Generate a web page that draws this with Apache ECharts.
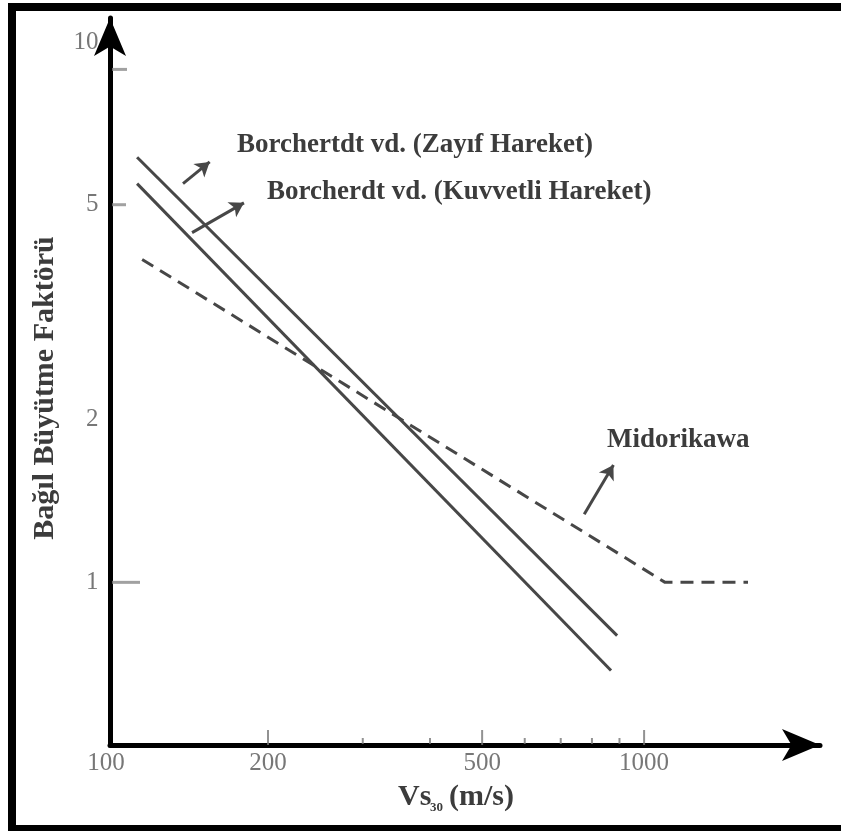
<!DOCTYPE html>
<html>
<head>
<meta charset="utf-8">
<script src="https://cdn.jsdelivr.net/npm/echarts@6/dist/echarts.min.js"></script>
<style>
html,body{margin:0;padding:0;background:#fff;}
#chart{width:841px;height:831px;}
</style>
</head>
<body>
<div id="chart"></div>
<script>
// ---- data ----
var xMin = 101.7, xMax = 2123;
var yMin = 0.5, yMax = 11.08;
var xTickLabels = [100, 200, 500, 1000];
var xMajorTicks = [200, 500, 1000];
var xMinorTicks = [300, 400, 600, 700, 800, 900];
var yTickLabels = [1, 2, 5, 10];
var yTickMarks = [1, 5, 8.9];
var zayifVs = [114.2, 891];
var zayifAmp = [6.12, 0.797];
var kuvvetliVs = [114.2, 868];
var kuvvetliAmp = [5.47, 0.687];
var midorikawaVs = [116.7, 1094, 1560];
var midorikawaAmp = [3.96, 1.0, 1.0];
// annotation arrows: [x1, y1, x2, y2]
var arrowZayif = [139, 5.47, 155.8, 6.00];
var arrowKuvvetli = [144.5, 4.44, 180.4, 5.04];
var arrowMidorikawa = [774, 1.337, 877, 1.649];

function pairs(xs, ys){ return xs.map(function(x,i){ return [x, ys[i]]; }); }

var font = '"Liberation Serif","DejaVu Serif",serif';
var lineColor = '#474747';
var textColor = '#3c3c3c';

var chart = echarts.init(document.getElementById('chart'));

var yTickLen = [28, 14, 15];

var option = {
  animation: false,
  backgroundColor: '#fff',
  grid: {left: 110, top: 18, right: 841 - 820, bottom: 831 - 745},
  xAxis: {
    type: 'log', logBase: 10, min: xMin, max: xMax,
    axisLine: {show: true, symbol: ['none', 'arrow'], symbolSize: [24, 38],
      lineStyle: {color: '#000', width: 5}},
    axisTick: {show: false}, axisLabel: {show: false}, splitLine: {show: false}
  },
  yAxis: {
    type: 'log', logBase: 10, min: yMin, max: yMax,
    axisLine: {show: true, symbol: ['none', 'arrow'], symbolSize: [24, 38],
      lineStyle: {color: '#000', width: 5}},
    axisTick: {show: false}, axisLabel: {show: false}, splitLine: {show: false}
  },
  series: [
    {
      name: 'Zayıf', type: 'line', data: pairs(zayifVs, zayifAmp),
      showSymbol: false, symbol: 'none', lineStyle: {color: lineColor, width: 3}
    },
    {
      name: 'Kuvvetli', type: 'line', data: pairs(kuvvetliVs, kuvvetliAmp),
      showSymbol: false, symbol: 'none', lineStyle: {color: lineColor, width: 3}
    },
    {
      name: 'Midorikawa', type: 'line', data: pairs(midorikawaVs, midorikawaAmp),
      showSymbol: false, symbol: 'none',
      lineStyle: {color: lineColor, width: 3, type: [13, 8]},
      markLine: {
        silent: true, animation: false,
        symbol: ['none', 'arrow'], symbolSize: [13, 14],
        label: {show: false},
        lineStyle: {color: lineColor, width: 3, type: 'solid'},
        data: [arrowZayif, arrowKuvvetli, arrowMidorikawa].map(function(a){
          return [{coord: [a[0], a[1]]}, {coord: [a[2], a[3]]}];
        })
      }
    },
    // y tick marks
    {
      type: 'scatter', clip: false, silent: true, z: 1,
      data: yTickMarks.map(function(v, i){
        return {value: [xMin, v], symbolSize: [yTickLen[i], 3], symbolOffset: [yTickLen[i]/2 + 2, 0]};
      }),
      symbol: 'rect', itemStyle: {color: '#8a8a8a'}
    },
    // x major ticks
    {
      type: 'scatter', clip: false, silent: true, z: 1,
      data: xMajorTicks.map(function(v){ return [v, yMin]; }),
      symbol: 'rect', symbolSize: [2, 15], symbolOffset: [0, -7.5],
      itemStyle: {color: '#777'}
    },
    // x minor ticks
    {
      type: 'scatter', clip: false, silent: true, z: 1,
      data: xMinorTicks.map(function(v){ return [v, yMin]; }),
      symbol: 'rect', symbolSize: [2, 6], symbolOffset: [0, -4],
      itemStyle: {color: '#777'}
    },
    // y tick labels
    {
      type: 'scatter', clip: false, silent: true,
      data: yTickLabels.map(function(v){ return [xMin, v]; }),
      symbolSize: 1, itemStyle: {color: 'rgba(0,0,0,0)'},
      label: {show: true, position: 'left', distance: 11,
        formatter: function(p){ return String(p.value[1]); },
        fontFamily: font, fontSize: 25, color: '#555'}
    },
    // x tick labels
    {
      type: 'scatter', clip: false, silent: true,
      data: xTickLabels.map(function(v){ return [v, yMin]; }),
      symbolSize: 1, itemStyle: {color: 'rgba(0,0,0,0)'},
      label: {show: true, position: 'bottom', distance: 5,
        formatter: function(p){ return String(p.value[0]); },
        fontFamily: font, fontSize: 25, color: '#555'}
    }
  ],
  graphic: [
    {type: 'rect', shape: {x: 12, y: 7, width: 840, height: 822},
      style: {fill: 'none', stroke: '#000', lineWidth: 8}, z: 100},
    {type: 'text', x: 237, y: 145,
      style: {text: 'Borchertdt vd. (Zayıf Hareket)', font: 'bold 27px ' + font,
        fill: textColor, textAlign: 'left', textVerticalAlign: 'middle'}},
    {type: 'text', x: 267, y: 192,
      style: {text: 'Borcherdt vd. (Kuvvetli Hareket)', font: 'bold 27px ' + font,
        fill: textColor, textAlign: 'left', textVerticalAlign: 'middle'}},
    {type: 'text', x: 607, y: 440,
      style: {text: 'Midorikawa', font: 'bold 27px ' + font,
        fill: textColor, textAlign: 'left', textVerticalAlign: 'middle'}},
    {type: 'text', x: 45, y: 388, rotation: Math.PI / 2,
      style: {text: 'Bağıl Büyütme Faktörü', font: 'bold 30px ' + font,
        fill: textColor, textAlign: 'center', textVerticalAlign: 'middle'}},
    {type: 'text', x: 398, y: 797,
      style: {text: 'Vs', font: 'bold 30px ' + font,
        fill: textColor, textAlign: 'left', textVerticalAlign: 'middle'}},
    {type: 'text', x: 430, y: 808,
      style: {text: '30', font: 'bold 13px ' + font,
        fill: textColor, textAlign: 'left', textVerticalAlign: 'middle'}},
    {type: 'text', x: 449, y: 797,
      style: {text: '(m/s)', font: 'bold 30px ' + font,
        fill: textColor, textAlign: 'left', textVerticalAlign: 'middle'}}
  ]
};
chart.setOption(option);
</script>
</body>
</html>
